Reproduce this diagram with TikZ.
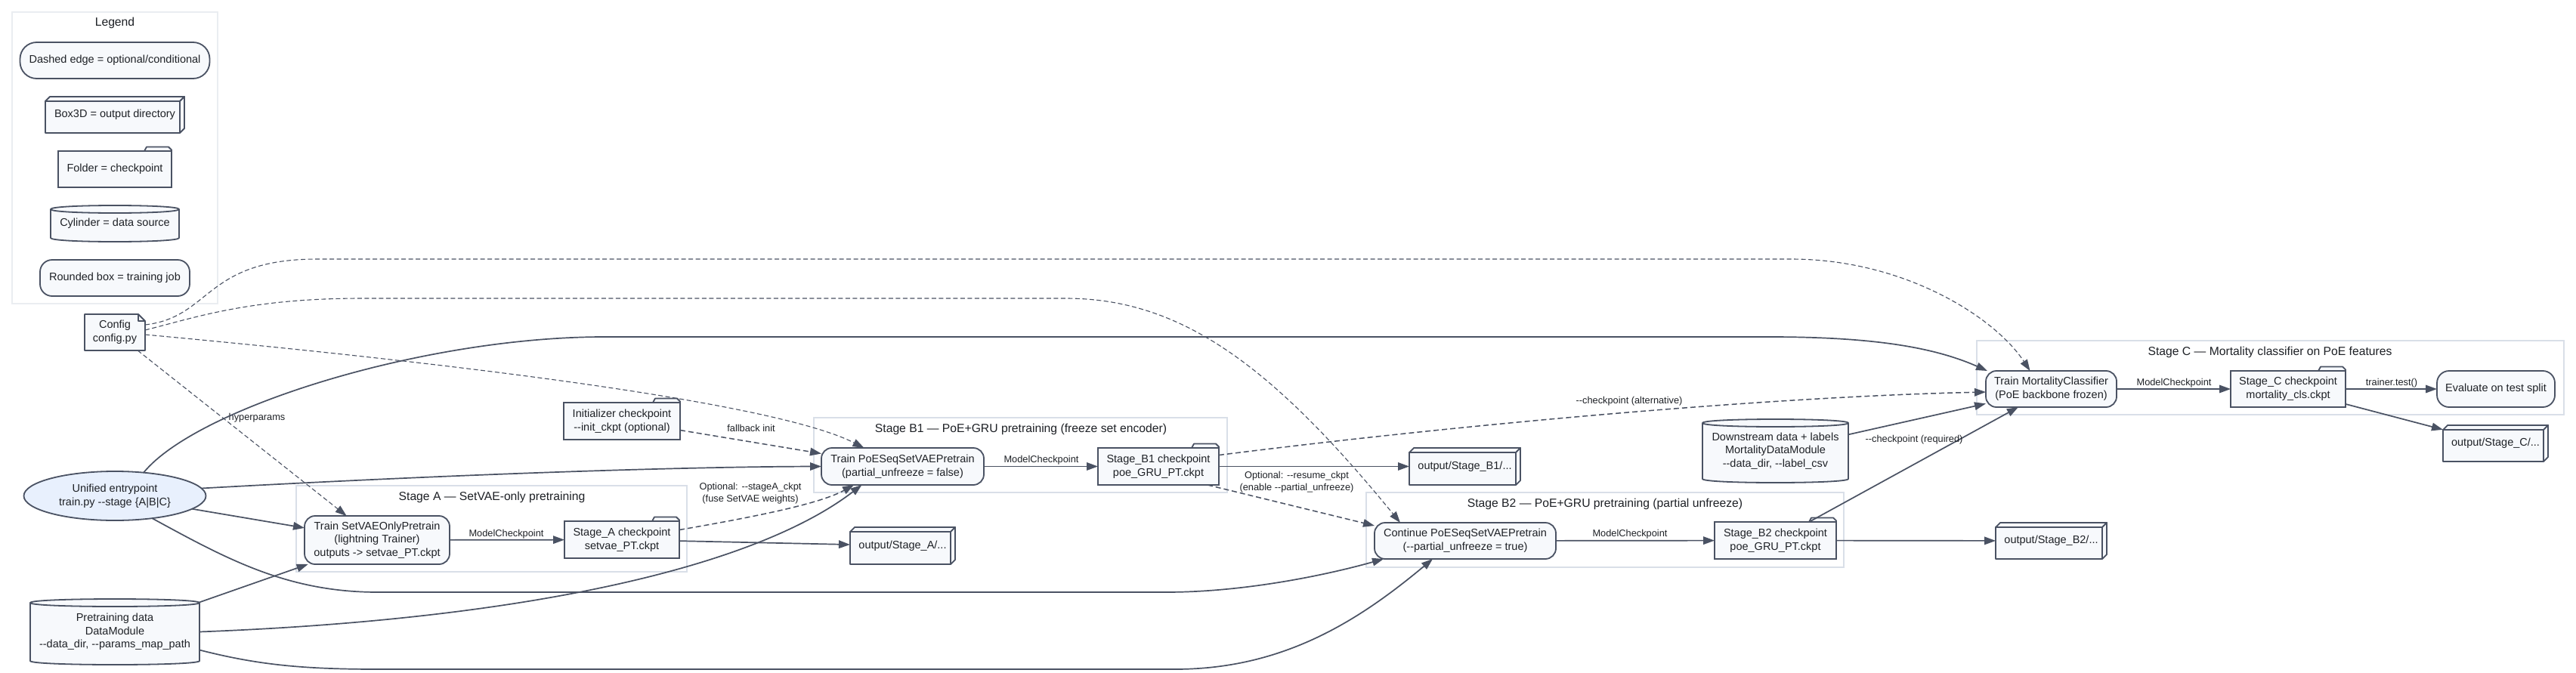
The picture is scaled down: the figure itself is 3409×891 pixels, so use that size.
\documentclass[tikz,border=0pt]{standalone}
\usepackage{fontspec}
\setmainfont{Liberation Sans}[Ligatures={TeXOff,CommonOff}]
\usetikzlibrary{arrows.meta,shapes.geometric}
\definecolor{edgecol}{RGB}{74,82,99}
\definecolor{nodefill}{RGB}{247,249,252}
\definecolor{entryfill}{RGB}{232,240,253}
\definecolor{clusterline}{RGB}{217,223,232}
\definecolor{legendline}{RGB}{234,237,241}
\definecolor{textcol}{RGB}{30,33,38}
\pgfdeclarelayer{clusterlayer}
\pgfdeclarelayer{shapelayer}
\pgfsetlayers{clusterlayer,shapelayer,main}
\tikzset{
  nodefont/.style={font=\fontsize{14.5}{17.6}\selectfont, text=textcol, align=center},
  base/.style={nodefont, rectangle, inner sep=0pt, outer sep=0pt},
  sz/.style 2 args={minimum width=#1pt, minimum height=#2pt},
  job/.style={base, draw=edgecol, line width=1.8pt, fill=nodefill, rounded corners=14pt},
  ckpt/.style={base, draw=edgecol, line width=1.8pt, fill=nodefill},
  plain/.style={base},
  entry/.style={nodefont, ellipse, draw=edgecol, line width=1.8pt, fill=entryfill, inner sep=0pt, outer sep=0pt},
  shapeline/.style={draw=edgecol, line width=1.8pt, fill=nodefill, line join=round},
  cluster/.style={draw=clusterline, line width=1.7pt},
  ctitle/.style={font=\fontsize{15.7}{18}\selectfont, text=textcol, inner sep=0pt},
  elabel/.style={font=\fontsize{12.8}{16}\selectfont, text=textcol, align=center, inner sep=0pt},
  tip/.style={-{Triangle[length=15pt,width=10.5pt]}},
  solidedge/.style={draw=edgecol, line width=1.7pt, tip},
  optedge/.style={draw=edgecol, line width=1.5pt, dash pattern=on 7pt off 4pt, tip},
  cfgedge/.style={draw=edgecol, line width=1.1pt, dash pattern=on 6pt off 3.5pt, tip},
}
\begin{document}
\begin{tikzpicture}[x=1pt,y=-1pt]
\useasboundingbox (0,0) rectangle (3409,891);

% ---------------- nodes ----------------
% legend
\node[ctitle] (lgTitle) at (152,30) {Legend};
\node[job, rounded corners=22pt, sz={251}{48}] (lgDashed) at (152,80) {Dashed edge = optional/conditional};
\node[plain, sz={184}{48}] (lgBox) at (152,152) {Box3D = output directory};
\node[ckpt, sz={150}{48}] (lgFolder) at (152,224) {Folder = checkpoint};
\node[plain, sz={170}{48}] (lgCyl) at (152,296) {Cylinder = data source};
\node[job, rounded corners=16pt, sz={198}{48}] (lgJob) at (152,368) {Rounded box = training job};

% sources
\node[plain, sz={80}{48}] (config) at (152,440) {Config\\config.py};
\node[entry, minimum width=241pt, minimum height=65pt] (unified) at (152,656.5) {Unified entrypoint\\train.py -{}-stage \{A|B|C\}};
\node[plain, sz={224}{87}] (pre) at (152,836.5) {Pretraining data\\DataModule\\--data\_dir, --params\_map\_path};
\node[plain, sz={193}{84}] (down) at (2349.5,597) {Downstream data + labels\\MortalityDataModule\\--data\_dir, --label\_csv};

% stage A
\node[ctitle] (tA) at (651,658) {Stage A — SetVAE-only pretraining};
\node[job, sz={192}{64}] (trainA) at (499,715) {Train SetVAEOnlyPretrain\\(lightning Trainer)\\outputs -> setvae\_PT.ckpt};
\node[ckpt, sz={152}{49}] (ckA) at (823,714.5) {Stage\_A checkpoint\\setvae\_PT.ckpt};
\node[plain, sz={139}{49}] (outA) at (1194.5,722.5) {output/Stage\_A/...};
\node[ckpt, sz={154}{49}] (init) at (823,557.5) {Initializer checkpoint\\--init\_ckpt (optional)};

% stage B1
\node[ctitle] (tB1) at (1351,568) {Stage B1 — PoE+GRU pretraining (freeze set encoder)};
\node[job, sz={215}{49}] (trainB1) at (1194.5,617.5) {Train PoESeqSetVAEPretrain\\(partial\_unfreeze = false)};
\node[ckpt, sz={160}{49}] (ckB1) at (1533,617.5) {Stage\_B1 checkpoint\\poe\_GRU\_PT.ckpt};
\node[plain, sz={147}{49}] (outB1) at (1938.5,617.5) {output/Stage\_B1/...};

% stage B2
\node[ctitle] (tB2) at (2124,667) {Stage B2 — PoE+GRU pretraining (partial unfreeze)};
\node[job, sz={240}{48}] (contB2) at (1939,716) {Continue PoESeqSetVAEPretrain\\(--partial\_unfreeze = true)};
\node[ckpt, sz={161}{49}] (ckB2) at (2349.5,715.5) {Stage\_B2 checkpoint\\poe\_GRU\_PT.ckpt};
\node[plain, sz={147}{48}] (outB2) at (2714.5,716) {output/Stage\_B2/...};

% stage C
\node[ctitle] (tC) at (3004,466) {Stage C — Mortality classifier on PoE features};
\node[job, sz={173}{48}] (trainC) at (2714.5,515) {Train MortalityClassifier\\(PoE backbone frozen)};
\node[ckpt, sz={152}{48}] (ckC) at (3028,515) {Stage\_C checkpoint\\mortality\_cls.ckpt};
\node[job, rounded corners=16pt, sz={156}{48}] (eval) at (3303,515) {Evaluate on test split};
\node[plain, sz={139}{48}] (outC) at (3302.5,587) {output/Stage\_C/...};

% ---------------- clusters / background ----------------
\begin{pgfonlayer}{clusterlayer}
\fill[white] (0,0) rectangle (3409,891);
\draw[draw=legendline, line width=1.7pt] (16,16) rectangle (288,402);
\draw[cluster] (392,643) rectangle (909,757);
\draw[cluster] (1077,553) rectangle (1624,652);
\draw[cluster] (1808,652) rectangle (2440,751);
\draw[cluster] (2616,451) rectangle (3393,549);
\end{pgfonlayer}

% ---------------- custom shapes ----------------
\begin{pgfonlayer}{shapelayer}
\foreach \n in {lgBox,outA,outB1,outB2,outC}{
  \filldraw[shapeline] (\n.south west) rectangle ([xshift=-6pt,yshift=-6pt]\n.north east);
  \filldraw[shapeline] ([yshift=-6pt]\n.north west) -- ([xshift=6pt]\n.north west) -- (\n.north east) -- ([xshift=-6pt,yshift=-6pt]\n.north east) -- cycle;
  \filldraw[shapeline] ([xshift=-6pt,yshift=-6pt]\n.north east) -- (\n.north east) -- ([yshift=6pt]\n.south east) -- ([xshift=-6pt]\n.south east) -- cycle;
}
\foreach \n in {lgFolder,init,ckA,ckB1,ckB2,ckC}{
  \filldraw[shapeline] ([xshift=-36pt]\n.north east) -- ([xshift=-33pt,yshift=5.5pt]\n.north east) -- ([xshift=-4pt,yshift=5.5pt]\n.north east) -- ([yshift=1.5pt]\n.north east) -- (\n.north east);
}
\foreach \n in {lgCyl,pre,down}{
  \filldraw[shapeline] ([yshift=-5pt]\n.north west) -- ([yshift=5pt]\n.south west)
    .. controls ([yshift=-1.67pt]\n.south west) and ([yshift=-1.67pt]\n.south east) .. ([yshift=5pt]\n.south east)
    -- ([yshift=-5pt]\n.north east)
    .. controls ([yshift=1.67pt]\n.north east) and ([yshift=1.67pt]\n.north west) .. ([yshift=-5pt]\n.north west) -- cycle;
  \draw[shapeline, fill=none] ([yshift=-5pt]\n.north west) .. controls ([yshift=-11.67pt]\n.north west) and ([yshift=-11.67pt]\n.north east) .. ([yshift=-5pt]\n.north east);
}
\filldraw[shapeline] (config.south west) -- (config.north west) -- ([xshift=-9pt]config.north east) -- ([yshift=-9pt]config.north east) -- (config.south east) -- cycle;
\draw[shapeline, fill=none] ([xshift=-9pt]config.north east) -- ([xshift=-9pt,yshift=-9pt]config.north east) -- ([yshift=-9pt]config.north east);
\end{pgfonlayer}

% ---------------- edges ----------------
% config (dashed, hyperparameters)
\draw[cfgedge] (config) -- (trainA) node[elabel] (lbHyper) at (340,553) {hyperparams};
\draw[cfgedge] ([yshift=-3pt]config.east) .. controls (700,490) and (1040,540) .. ([xshift=-51pt]trainB1.north);
\draw[cfgedge] ([yshift=10pt]config.east) .. controls (280,420) and (270,343) .. (420,343) -- (2370,343) .. controls (2520,343) and (2640,420) .. ([xshift=-28pt]trainC.north);
\draw[cfgedge] ([yshift=3pt]config.east) .. controls (260,420) and (330,395) .. (479,395) -- (1410,395) .. controls (1560,395) and (1680,480) .. ([xshift=-86pt]contB2.north);

% unified entrypoint
\draw[solidedge] (unified) -- (trainA);
\draw[solidedge] (unified.5) .. controls (600,628) and (900,618) .. (trainB1.west);
\draw[solidedge] (unified.39) .. controls (260,540) and (560,446) .. (800,446) -- (2341,446) .. controls (2480,446) and (2560,460) .. ([xshift=2pt]trainC.north west);
\draw[solidedge] (unified.-31) .. controls (300,740) and (380,784) .. (500,784) -- (1543,784) .. controls (1650,784) and (1760,760) .. ([xshift=12pt]contB2.south west);

% pretraining data
\draw[solidedge] (pre) -- (trainA);
\draw[solidedge] (pre.east) .. controls (700,820) and (1000,750) .. ([xshift=-54pt]trainB1.south);
\draw[solidedge] ([yshift=-24pt]pre.east) .. controls (340,880) and (400,886) .. (500,886) -- (1555,886) .. controls (1700,886) and (1800,820) .. ([xshift=-43pt]contB2.south);

% stage A
\draw[solidedge] (trainA) -- (ckA) node[elabel] (lbMcA) at (670,707) {ModelCheckpoint};
\draw[solidedge] (ckA) -- (outA);
\draw[optedge] ([yshift=13pt]ckA.east) .. controls (1000,684) and (1085,667) .. ([xshift=43pt]trainB1.south west) node[elabel] (lbStageA) at (993,653) {Optional: --stageA\_ckpt\\(fuse SetVAE weights)};
\draw[optedge] ([yshift=-12pt]init.east) -- ([yshift=17pt]trainB1.west) node[elabel] (lbFallback) at (994,567) {fallback init};

% stage B1
\draw[solidedge] (trainB1) -- (ckB1) node[elabel] (lbMcB1) at (1378,609) {ModelCheckpoint};
\draw[solidedge] (ckB1) -- (outB1);
\draw[optedge] ([xshift=-15pt]ckB1.south east) -- ([yshift=20pt]contB2.west) node[elabel] (lbResume) at (1716,638) {Optional: --resume\_ckpt\\(enable --partial\_unfreeze)};
\draw[optedge] ([yshift=15pt]ckB1.east) .. controls (1950,560) and (2350,525) .. ([yshift=-4pt]trainC.west) node[elabel] (lbAlt) at (2156,531) {--checkpoint (alternative)};

% stage B2
\draw[solidedge] (contB2) -- (ckB2) node[elabel] (lbMcB2) at (2157,707) {ModelCheckpoint};
\draw[solidedge] (ckB2) -- (outB2);
\draw[solidedge] (ckB2) -- (trainC) node[elabel] (lbReq) at (2533,582) {--checkpoint (required)};
\draw[solidedge] (down) -- (trainC);

% stage C
\draw[solidedge] (trainC) -- (ckC) node[elabel] (lbMcC) at (2877,507) {ModelCheckpoint};
\draw[solidedge] (ckC) -- (eval) node[elabel] (lbTest) at (3165,507) {trainer.test()};
\draw[solidedge] (ckC) -- (outC);
\end{tikzpicture}
\end{document}
